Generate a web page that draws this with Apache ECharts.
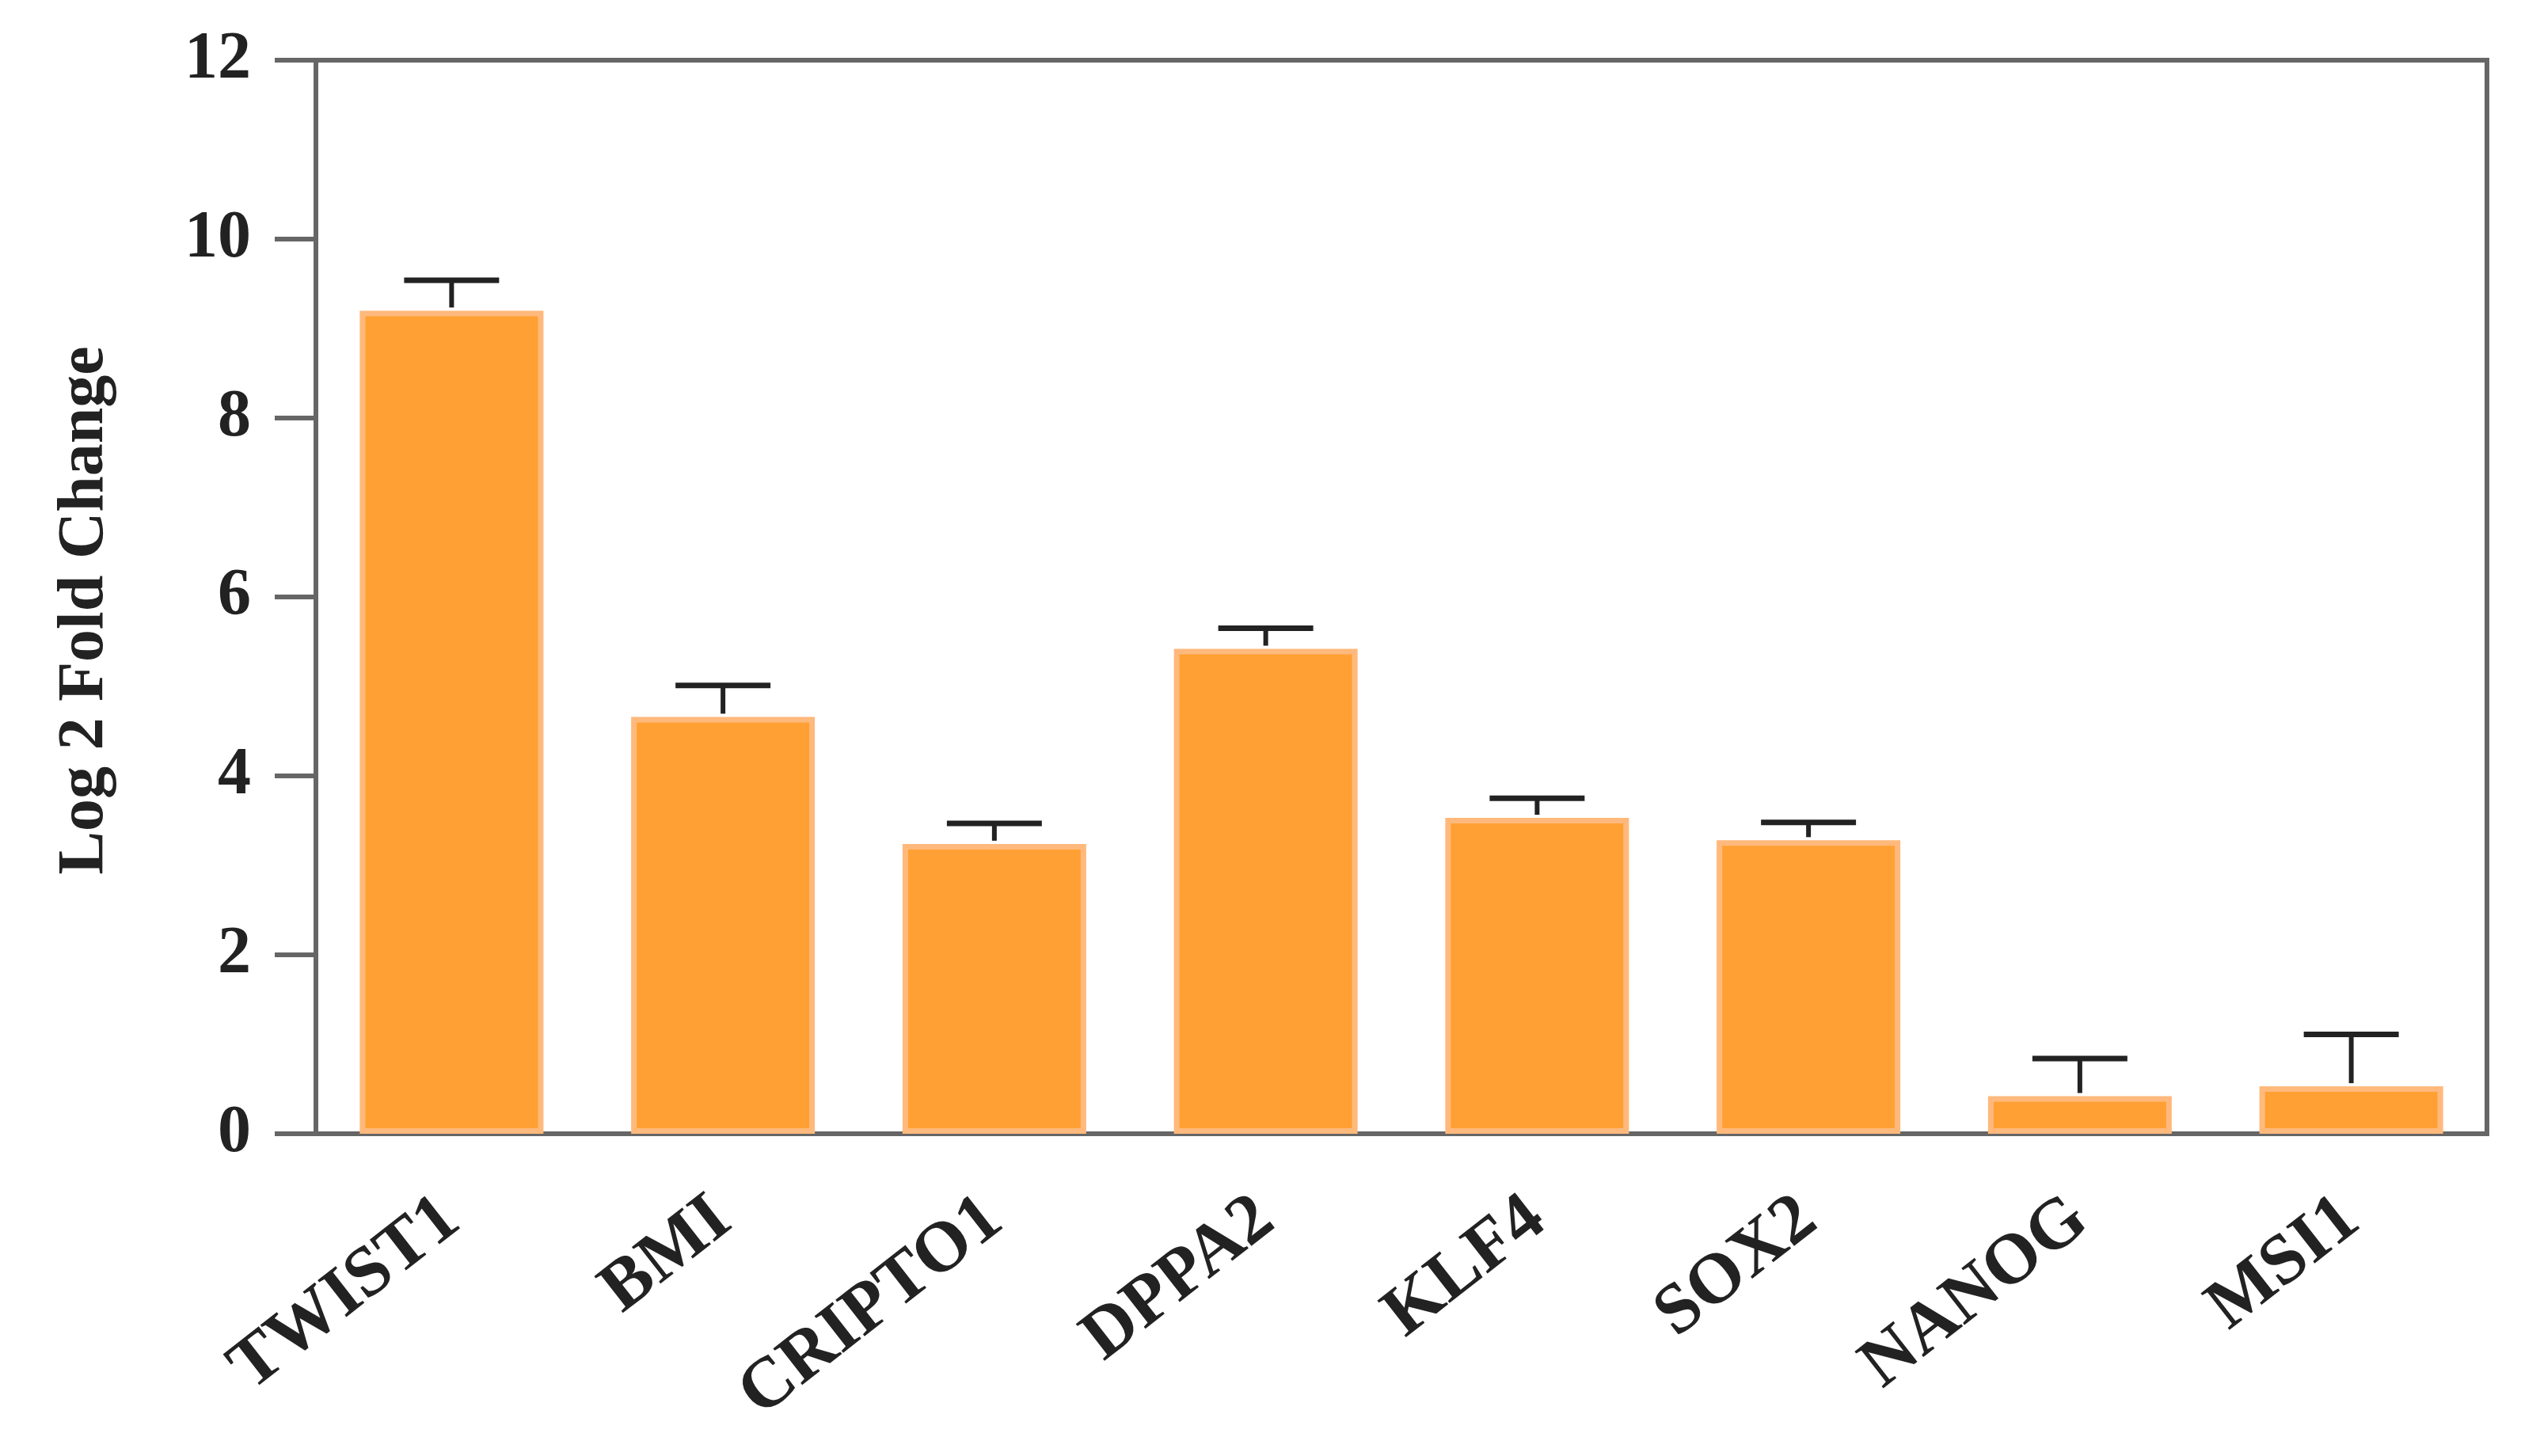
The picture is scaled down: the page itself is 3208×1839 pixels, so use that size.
<!DOCTYPE html>
<html>
<head>
<meta charset="utf-8">
<script src="https://cdn.jsdelivr.net/npm/echarts@6/dist/echarts.min.js"></script>
<style>
  html, body { margin: 0; padding: 0; background: #fff; }
  #chart { width: 3208px; height: 1839px; }
</style>
</head>
<body>
<div id="chart"></div>
<script>
const genes = ['TWIST1', 'BMI', 'CRIPTO1', 'DPPA2', 'KLF4', 'SOX2', 'NANOG', 'MSI1']
const foldChange = [9.2, 4.66, 3.24, 5.42, 3.53, 3.28, 0.42, 0.53]
const upperError = [9.54, 5.01, 3.47, 5.65, 3.75, 3.48, 0.84, 1.11]
const yTicks = [0, 2, 4, 6, 8, 10, 12]

const serif = "'Liberation Serif', 'Times New Roman', serif"
const axisGray = '#666666'

const chart = echarts.init(document.getElementById('chart'))

// upper whisker only, like the original figure
const errorItem = (params, api) => {
  const x = api.value(0)
  const top = api.coord([x, api.value(2)])
  const base = api.coord([x, api.value(1)])
  const half = api.size([1, 0])[0] * 0.175
  const style = { stroke: '#222222', lineWidth: 6, fill: null }
  return {
    type: 'group',
    children: [
      { type: 'line', shape: { x1: top[0], y1: base[1] - 4, x2: top[0], y2: top[1] }, style },
      { type: 'line', shape: { x1: top[0] - half, y1: top[1], x2: top[0] + half, y2: top[1] }, style: { ...style, lineWidth: 7 } }
    ]
  }
}

const option = {
  animation: false,
  grid: {
    left: 399,
    right: 67,
    top: 76,
    bottom: 407,
    show: true,
    borderColor: axisGray,
    borderWidth: 6,
    backgroundColor: 'transparent'
  },
  xAxis: {
    type: 'category',
    data: genes,
    axisLine: { lineStyle: { color: axisGray, width: 6 } },
    axisTick: { alignWithLabel: true, length: 40, lineStyle: { color: axisGray, width: 6 } },
    axisLabel: {
      rotate: 38,
      margin: 98,
      interval: 0,
      fontFamily: serif,
      fontWeight: 'bold',
      fontSize: 90,
      color: '#222222'
    }
  },
  yAxis: {
    type: 'value',
    min: yTicks[0],
    max: yTicks[yTicks.length - 1],
    interval: 2,
    name: 'Log 2 Fold Change',
    nameLocation: 'middle',
    nameGap: 250,
    nameTextStyle: {
      fontFamily: serif,
      fontWeight: 'bold',
      fontSize: 82,
      color: '#222222',
      padding: [0, 34, 0, 0]
    },
    axisLine: { show: true, lineStyle: { color: axisGray, width: 6 } },
    axisTick: { show: true, length: 52, lineStyle: { color: axisGray, width: 6 } },
    axisLabel: {
      margin: 82,
      fontFamily: serif,
      fontWeight: 'bold',
      fontSize: 84,
      color: '#222222'
    },
    splitLine: { show: false }
  },
  series: [
    {
      type: 'bar',
      data: foldChange,
      barWidth: 232,
      itemStyle: {
        color: '#ffa034',
        borderColor: '#ffb97c',
        borderWidth: 7
      },
      z: 2
    },
    {
      type: 'custom',
      renderItem: errorItem,
      data: genes.map((g, i) => [i, foldChange[i], upperError[i]]),
      z: 3
    }
  ]
}

chart.setOption(option)
</script>
</body>
</html>
